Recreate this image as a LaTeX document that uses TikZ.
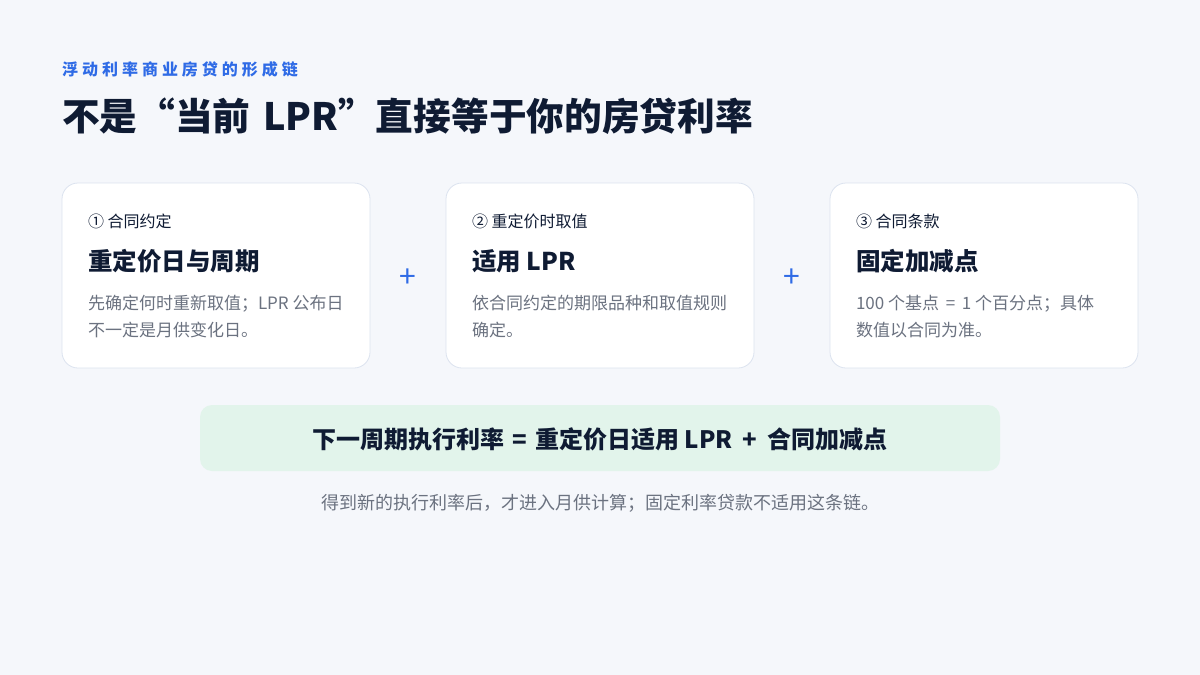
\documentclass[tikz,border=0pt]{standalone}
\usepackage{fontspec}
\setmainfont{Noto Sans CJK SC}
\usetikzlibrary{positioning}

\definecolor{pagebg}{HTML}{F5F7FB}
\definecolor{ink}{HTML}{0F1B33}
\definecolor{accent}{HTML}{2F6BE6}
\definecolor{muted}{HTML}{6B7280}
\definecolor{cardline}{HTML}{DCE3EF}
\definecolor{mint}{HTML}{E2F4EB}

\begin{document}
\begin{tikzpicture}[x=1pt, y=-1pt,
    every node/.style={inner sep=0pt, outer sep=0pt},
    card/.style={draw=cardline, line width=0.8pt, fill=white, rounded corners=16pt,
      minimum width=308pt, minimum height=185pt, anchor=north west},
    tag/.style={anchor=west, text=ink, font=\fontsize{16}{18}\selectfont},
    head/.style={anchor=west, text=ink, font=\fontsize{24.5}{30}\selectfont\bfseries},
    body/.style={anchor=west, align=left, text=muted, font=\fontsize{17}{27}\selectfont},
    plussign/.style={text=accent, font=\fontsize{30}{30}\selectfont}]

    % 画布与背景
    \fill[pagebg] (0,0) rectangle (1200,675);
    \useasboundingbox (0,0) rectangle (1200,675);

    % 1. 标题区
    \node[anchor=west, text=accent, font=\fontsize{16}{20}\selectfont\bfseries\addfontfeatures{LetterSpace=25}]
      (kicker) at (62,69) {浮动利率商业房贷的形成链};
    \node[anchor=west, text=ink, font=\fontsize{37.7}{44}\selectfont\bfseries]
      (title) at (62,116) {不是“当前\hspace{4pt} LPR”直接等于你的房贷利率};

    % 2. 三张卡片
    \node[card] (card1) at (62,183) {};
    \node[card] (card2) at (446,183) {};
    \node[card] (card3) at (830,183) {};

    % 卡片一：重定价日
    \node[tag]  (tag1)  at (88,221)   {① 合同约定};
    \node[head] (head1) at (88,261)   {重定价日与周期};
    \node[body] (body1) at (88,316.5) {先确定何时重新取值；LPR 公布日\\不一定是月供变化日。};

    % 卡片二：LPR
    \node[tag]  (tag2)  at (472,221)   {② 重定价时取值};
    \node[head] (head2) at (472,261)   {适用 LPR};
    \node[body] (body2) at (472,316.5) {依合同约定的期限品种和取值规则\\确定。};

    % 卡片三：加减点
    \node[tag]  (tag3)  at (856,221)   {③ 合同条款};
    \node[head] (head3) at (856,261)   {固定加减点};
    \node[body] (body3) at (856,316.5) {100 个基点 \,=\, 1 个百分点；具体\\数值以合同为准。};

    % 卡片之间的加号
    \node[plussign] (plus1) at (408,278) {+};
    \node[plussign] (plus2) at (792,278) {+};

    % 3. 公式条
    \node[fill=mint, rounded corners=12pt, minimum width=800pt, minimum height=66pt,
      anchor=north west] (formulabar) at (200,405) {};
    \node[text=ink, font=\fontsize{24}{26}\selectfont\bfseries] (formula) at ([yshift=-1pt]formulabar.center)
      {下一周期执行利率\hspace{8pt}=\hspace{8pt}重定价日适用 LPR\hspace{10pt}+\hspace{10pt}合同加减点};

    % 4. 脚注
    \node[text=muted, font=\fontsize{18}{20}\selectfont] (footnote) at (600,503)
      {得到新的执行利率后，才进入月供计算；固定利率贷款不适用这条链。};

\end{tikzpicture}
\end{document}
